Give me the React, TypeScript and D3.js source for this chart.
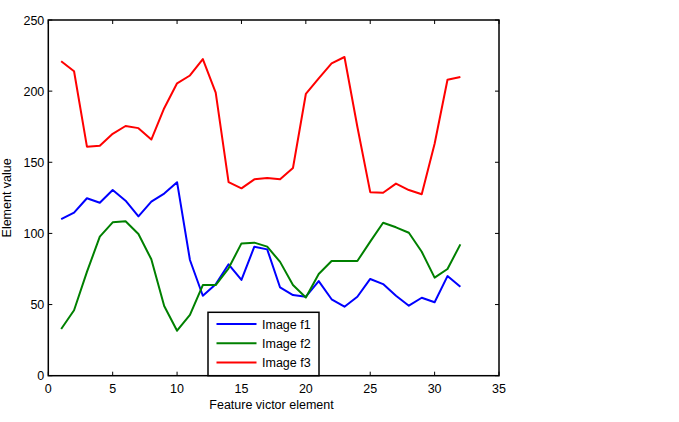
import React, { useRef, useEffect } from 'react';
import * as d3 from 'd3';

const elements = d3.range(1, 33);
const imageF1 = [110, 114.6, 124.7, 121.6, 130.5, 123, 112, 122.3, 128, 136, 81.3, 56.2, 64.2, 78.3, 67.3, 90.7,
    88.8, 62, 56.7, 55.5, 66.5, 53.7, 48.5, 55.5, 68, 64.4, 56.2, 49.2, 54.8, 51.6, 70, 62.5];
const imageF2 = [32.8, 46, 73, 97.7, 107.8, 108.5, 99.6, 81.8, 49, 31.6, 42.7, 63.7, 63.7, 75.5, 93, 93.5,
    90.7, 80, 63.7, 55, 71.5, 80.6, 80.6, 80.6, 94.2, 107.5, 104.3, 100.5, 87.1, 68.9, 75, 92.3];
const imageF3 = [221, 214, 161, 161.6, 170, 175.5, 174, 166, 188, 205.5, 211, 222.5, 199, 136, 131.7, 138,
    139, 138, 146, 198, 209, 219.5, 224, 175, 129, 128.6, 135, 130.5, 127.5, 163, 208, 210];
const seriesNames = ['Image f1', 'Image f2', 'Image f3'];
const seriesColors = ['#0000ff', '#008000', '#ff0000'];
const xTicks = [0, 5, 10, 15, 20, 25, 30, 35];
const yTicks = [0, 50, 100, 150, 200, 250];

function LineChart() {
    const ref = useRef(null);
    useEffect(() => {
        const svg = d3.select(ref.current);
        svg.selectAll('*').remove();
        const left = 48.3, right = 499, top = 20, bottom = 375.7;
        const font = 'Liberation Sans, Arial, sans-serif';

        const x = d3.scaleLinear().domain([0, 35]).range([left, right]);
        const y = d3.scaleLinear().domain([0, 250]).range([bottom, top]);

        const series = [imageF1, imageF2, imageF3];
        const line = d3.line().x((d, i) => x(elements[i])).y(d => y(d));

        series.forEach((s, k) => {
            svg.append('path')
                .datum(s)
                .attr('fill', 'none')
                .attr('stroke', seriesColors[k])
                .attr('stroke-width', 2)
                .attr('stroke-linejoin', 'round')
                .attr('d', line);
        });

        // ticks on all four sides, pointing inward
        const tl = 4;
        const tg = svg.append('g').attr('stroke', '#000').attr('stroke-width', 1);
        xTicks.forEach(t => {
            tg.append('line').attr('x1', x(t)).attr('x2', x(t)).attr('y1', bottom).attr('y2', bottom - tl);
            tg.append('line').attr('x1', x(t)).attr('x2', x(t)).attr('y1', top).attr('y2', top + tl);
        });
        yTicks.forEach(t => {
            tg.append('line').attr('x1', left).attr('x2', left + tl).attr('y1', y(t)).attr('y2', y(t));
            tg.append('line').attr('x1', right).attr('x2', right - tl).attr('y1', y(t)).attr('y2', y(t));
        });

        svg.append('rect')
            .attr('x', left).attr('y', top)
            .attr('width', right - left).attr('height', bottom - top)
            .attr('fill', 'none').attr('stroke', '#000').attr('stroke-width', 1.5);

        svg.append('g').selectAll('text').data(xTicks).enter().append('text')
            .attr('x', d => x(d)).attr('y', bottom + 17)
            .attr('text-anchor', 'middle')
            .attr('font-family', font).attr('font-size', 12.5)
            .text(d => d);

        svg.append('g').selectAll('text').data(yTicks).enter().append('text')
            .attr('x', left - 4).attr('y', d => y(d) + 4.5)
            .attr('text-anchor', 'end')
            .attr('font-family', font).attr('font-size', 12.5)
            .text(d => d);

        svg.append('text')
            .attr('x', 271.5).attr('y', 409)
            .attr('text-anchor', 'middle')
            .attr('font-family', font).attr('font-size', 12.5)
            .text('Feature victor element');

        svg.append('text')
            .attr('transform', 'translate(11,' + (top + bottom) / 2 + ') rotate(-90)')
            .attr('text-anchor', 'middle')
            .attr('font-family', font).attr('font-size', 12.5)
            .text('Element value');

        // legend
        const lg = svg.append('g');
        lg.append('rect')
            .attr('x', 208).attr('y', 312.3)
            .attr('width', 111).attr('height', bottom - 312.3)
            .attr('fill', '#fff').attr('stroke', '#000').attr('stroke-width', 1.5);
        seriesNames.forEach((name, k) => {
            const ly = 324 + k * 19.3;
            lg.append('line')
                .attr('x1', 216.5).attr('x2', 256.5).attr('y1', ly).attr('y2', ly)
                .attr('stroke', seriesColors[k]).attr('stroke-width', 2);
            lg.append('text')
                .attr('x', 262).attr('y', ly + 4.5)
                .attr('font-family', font).attr('font-size', 12.5)
                .text(name);
        });
    }, []);
    return (
        <svg ref={ref} width="679" height="422" style={{ position: 'absolute', left: 0, top: 0, background: '#fff' }}></svg>
    );
}

export default function App() {
    return <LineChart />;
}
